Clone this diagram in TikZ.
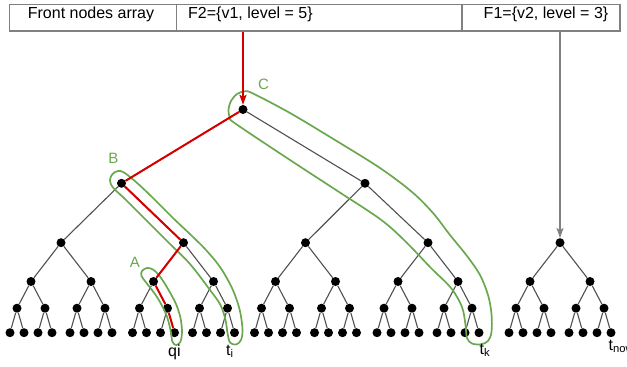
\documentclass[tikz,border=0pt]{standalone}
\usepackage{fontspec}
\setmainfont{Liberation Sans}
\usetikzlibrary{arrows.meta}

\definecolor{hotred}{HTML}{D40000}
\definecolor{hullgreen}{HTML}{6AA84F}
\definecolor{treegray}{HTML}{505050}

\begin{document}
\begin{tikzpicture}[x=1pt,y=-1pt,
    font=\fontsize{16}{19}\selectfont,
    dot/.style={circle,fill=black,inner sep=0pt,minimum size=9pt},
    edge/.style={draw=treegray,line width=1.1pt},
    hot/.style={draw=hotred,line width=2pt},
    hull/.style={draw=hullgreen,line width=1.7pt},
    hulltag/.style={text=hullgreen,inner sep=0pt,font=\fontsize{15}{18}\selectfont},
    cell/.style={draw=gray,line width=1.2pt,inner sep=0pt,minimum height=26.5pt},
    feed/.style={-{Stealth[length=10pt,width=7pt,inset=2pt]}}]
\useasboundingbox (0,0) rectangle (627,367);

% front nodes array
\node[cell,minimum width=167pt] (arr) at (93,17.75) {};
\node[cell,minimum width=285.5pt] (f2) at (319.25,17.75) {};
\node[cell,minimum width=158pt] (f1) at (541,17.75) {};
\node[anchor=base,inner sep=0pt] (arrtxt) at (91,18.5) {Front nodes array};
\node[anchor=base west,inner sep=0pt] (f2txt) at (188,18.5) {F2=\{v1, level = 5\}};
\node[anchor=base,inner sep=0pt] (f1txt) at (546,18.5) {F1=\{v2, level = 3\}};

% top of the v1 tree
\node[dot] (v1) at (243,109.5) {};
\node[dot] (v1l) at (121.5,183.3) {};
\node[dot] (v1r) at (365,183.3) {};
\node[dot] (v1ll) at (61,242.7) {};
\node[dot] (v1lr) at (183.5,242.7) {};
\node[dot] (v1rl) at (305.5,242.7) {};
\node[dot] (v1rr) at (428,242.7) {};
\node[dot] (v2) at (560,242.7) {};
\foreach \a/\b in {v1/v1l,v1/v1r,v1l/v1ll,v1l/v1lr,v1r/v1rl,v1r/v1rr}
    \draw[edge] (\a) -- (\b);

% three more levels below each of them
\foreach \s/\x in {v1ll/61,v1lr/183.5,v1rl/305.5,v1rr/428,v2/560}{
    \foreach \i/\da in {l/-30,r/30}{
        \pgfmathsetmacro\xa{\x+(\da)}
        \node[dot] (\s\i) at (\xa,281.5) {};
        \draw[edge] (\s) -- (\s\i);
        \foreach \j/\db in {l/-14,r/14}{
            \pgfmathsetmacro\xb{\xa+(\db)}
            \node[dot] (\s\i\j) at (\xb,308.2) {};
            \draw[edge] (\s\i) -- (\s\i\j);
            \foreach \k/\dc in {l/-7,r/7}{
                \pgfmathsetmacro\xc{\xb+(\dc)}
                \node[dot] (\s\i\j\k) at (\xc,332.7) {};
                \draw[edge] (\s\i\j) -- (\s\i\j\k);
            }
        }
    }
}

% hulls A, B, C
\draw[hull] plot[smooth cycle,tension=0.55] coordinates {(142,271) (147,268) (153,269.5)
    (160,276.5) (168,289) (176,304) (180.5,318) (182,332) (180.5,341.5) (176.5,345)
    (172.5,342) (170.5,330) (166,314) (157,297) (146.5,283) (141.5,276)};
\draw[hull] plot[smooth cycle,tension=0.55] coordinates {(110,180) (112.5,174) (118,171)
    (124,172.5) (136,182) (152,197) (173,218) (192,236) (206,250) (220,267) (232,288)
    (239.5,309) (242.5,329) (241,340) (236,344.5) (230,342.5) (227.5,333) (225.5,320)
    (220.5,305) (210,290) (190,264) (169,243) (147,221) (126,200) (113,187.5)};
\draw[hull] plot[smooth cycle,tension=0.55] coordinates {(228.5,110) (231,101) (237,94)
    (245,91.3) (253,93.5) (290,113) (335,140) (380,168) (412,192) (433,213) (450,235)
    (467,256) (480,275) (488,295) (491.5,314) (491.5,332) (488,341) (481,344.3)
    (472,343.5) (467,338) (465.5,325) (462,307) (451,288) (431,268) (404,240) (380,219)
    (336,190) (290,160) (236,124) (230,118)};
\node[hulltag] (tagA) at (135,262.7) {A};
\node[hulltag] (tagB) at (113.5,158.5) {B};
\node[hulltag] (tagC) at (263.5,84.5) {C};

% path down to qi
\draw[hot] (v1) -- (v1l) -- (v1lr) -- (v1lrl) -- (v1lrlr) -- (v1lrlrr);

% pointers from the array
\draw[hot,feed] (v1 |- f2.south) -- (v1);
\draw[draw=gray,line width=1.2pt,feed] (v2 |- f1.south) -- (v2);

% leaf names
\node[anchor=base west,inner sep=0pt] (qi) at (168,356.5) {qi};
\node[anchor=base west,inner sep=0pt] (ti) at (226,355) {t\textsubscript{i}};
\node[anchor=base west,inner sep=0pt] (tk) at (479.5,354) {t\textsubscript{k}};
\node[anchor=base west,inner sep=0pt] (tnow) at (608.5,350) {t\textsubscript{now}};
\end{tikzpicture}
\end{document}
